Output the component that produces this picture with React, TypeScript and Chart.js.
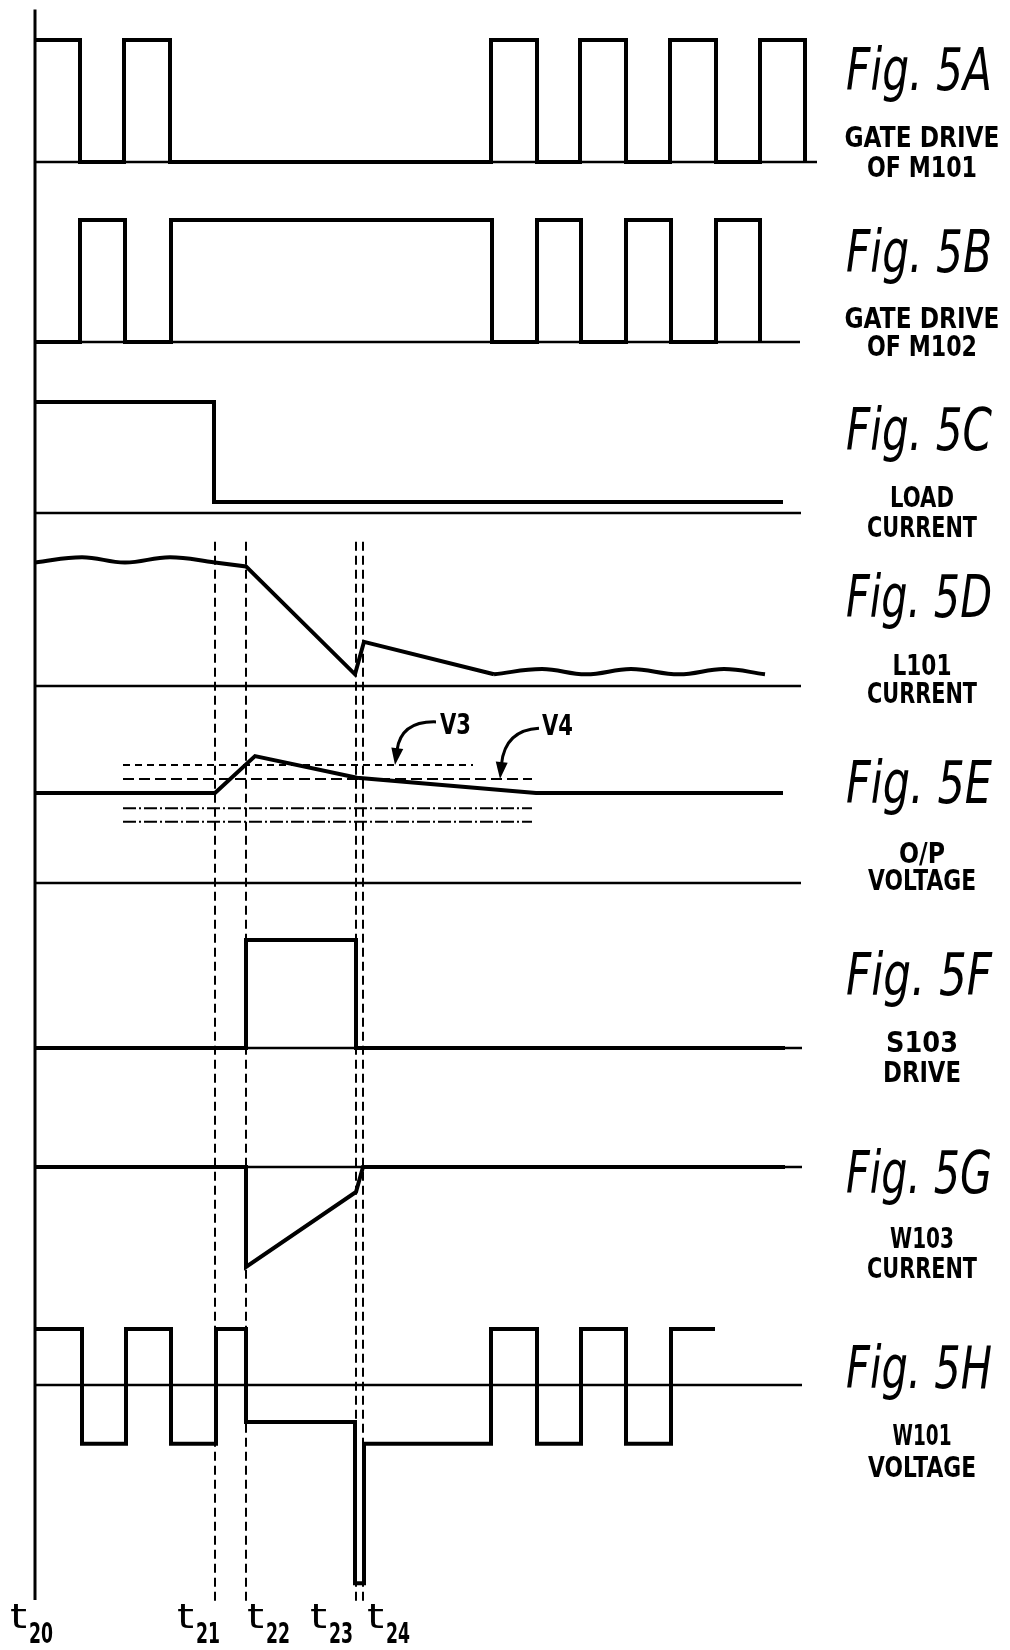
import React, { useEffect, useRef } from 'react';
import { Chart, registerables } from 'chart.js';

Chart.register(...registerables);

// ---------------- DATA ----------------
// time markers t20..t24 (time units)
const markerSubs = ['20', '21', '22', '23', '24'];
const markerTimes = [0, 18.0, 21.1, 32.1, 32.8];

// Fig 5A gate drive of M101 (stepped, 1 = high)
const gateM101Times = [0, 4.5, 8.9, 13.5, 45.6, 50.2, 54.5, 59.1, 63.5, 68.1, 72.5, 77.0];
const gateM101Levels = [1, 0, 1, 0, 1, 0, 1, 0, 1, 0, 1, 0];

// Fig 5B gate drive of M102
const gateM102Times = [0, 4.5, 9.0, 13.6, 45.7, 50.2, 54.6, 59.1, 63.6, 68.1, 72.5];
const gateM102Levels = [0, 1, 0, 1, 0, 1, 0, 1, 0, 1, 0];

// Fig 5C load current
const loadTimes = [0, 17.9, 74.8];
const loadLevels = [1, 0.1, 0.1];

// Fig 5D L101 current: steady ripple, ramp, settling ripple
const l101RippleTimes = [0, 4.7, 9.0, 13.5, 18.0];
const l101RippleLevels = [0.95, 0.99, 0.95, 0.99, 0.95];
const l101RampTimes = [18.0, 21.1, 32.0, 32.9, 45.9];
const l101RampLevels = [0.95, 0.92, 0.09, 0.34, 0.09];
const l101TailTimes = [45.9, 50.7, 55.1, 59.6, 64.4, 68.9, 73.0];
const l101TailLevels = [0.09, 0.13, 0.09, 0.13, 0.09, 0.13, 0.09];

// Fig 5E output voltage
const outTimes = [0, 18.0, 22.0, 32.2, 50.1, 74.8];
const outLevels = [1.0, 1.0, 1.41, 1.17, 1.0, 1.0];
// reference thresholds in Fig 5E
const v3Times = [8.8, 43.8];
const v3Level = 1.31;
const v4Times = [8.8, 49.7];
const v4Level = 1.156;
const lowRefTimes = [8.8, 49.7];
const lowRefLevels = [0.83, 0.68];

// Fig 5F S103 drive (stepped)
const s103Times = [0, 21.1, 32.1, 75.0];
const s103Levels = [0, 1, 0, 0];

// Fig 5G W103 current
const w103Times = [0, 21.1, 21.1, 32.1, 32.8, 75.0];
const w103Levels = [0, 0, -1.0, -0.25, 0, 0];

// Fig 5H W101 voltage (stepped)
const w101Times = [0, 4.7, 9.1, 13.6, 18.1, 21.1, 32.0, 32.9, 45.6, 50.2, 54.6, 59.1, 63.6, 68.0];
const w101Levels = [1, -1.05, 1, -1.05, 1, -0.66, -3.54, -1.05, 1, -1.05, 1, -1.05, 1, 1];

// baseline end times per panel A..H
const baselineEnds = [78.2, 76.5, 76.6, 76.6, 76.6, 76.7, 76.7, 76.7];

// label texts
const figTitles = ['Fig. 5A', 'Fig. 5B', 'Fig. 5C', 'Fig. 5D', 'Fig. 5E', 'Fig. 5F', 'Fig. 5G', 'Fig. 5H'];
const figLine1 = ['GATE DRIVE', 'GATE DRIVE', 'LOAD', 'L101', 'O/P', 'S103', 'W103', 'W101'];
const figLine2 = ['OF M101', 'OF M102', 'CURRENT', 'CURRENT', 'VOLTAGE', 'DRIVE', 'CURRENT', 'VOLTAGE'];

// ---------------- LAYOUT (positions / sizes / styles) ----------------
const W = 1010;
const H = 1650;
const X_MIN = -3.5;
const X_MAX = 97.5;
const panelIds = ['yA', 'yB', 'yC', 'yD', 'yE', 'yF', 'yG', 'yH'];
const panelZeroPx = [162, 342, 513, 686, 883, 1048, 1167, 1385];
const panelUnitPx = [122, 122, 111, 130, 90, 108, 100, 56];

const AXIS_TOP_A = 1.25;
const AXIS_BOTTOM_H = -3.84;
const MARKER_TOP_D = 1.11;
const MARKER_BOTTOM_H = -3.875;

const titleBaselines = [90, 272, 450, 617, 803, 995, 1193, 1388];
const line1Baselines = [147, 328, 507, 675, 863, 1052, 1248, 1445];
const line2Baselines = [177, 356, 537, 703, 890, 1082, 1278, 1477];
const TITLE_CX = 919;
const SUB_CX = 922;
const TITLE_W = 146;
const subWidths: Record<string, number> = {
  'GATE DRIVE': 155, 'OF M101': 110, 'OF M102': 110, LOAD: 64, CURRENT: 110,
  L101: 59, 'O/P': 46, VOLTAGE: 108, S103: 72, DRIVE: 78, W103: 64, W101: 59,
};
const timeLabelLeft = [10, 177, 247, 310, 367];
const T_BASE = 1628;
const SUB_BASE = 1643;

const INK = '#000';
const THICK = 4;
const THIN = 2.5;

const TITLE_FONT = "italic 58px 'DejaVu Sans'";
const SUB_FONT = "bold 29px 'DejaVu Sans'";
const T_FONT = "34px 'DejaVu Sans'";
const T_SUB_FONT = "bold 29px 'DejaVu Sans'";

// arrow annotations (time, E-level)
const arrowV3 = { tail: [40.1, 1.79], ctrl: [36.6, 1.80], tip: [36.0, 1.31] };
const arrowV4 = { tail: [50.4, 1.72], ctrl: [47.0, 1.70], tip: [46.5, 1.156] };

// ---------------- helpers ----------------
const pts = (ts: number[], ls: number[]) => ts.map((t, i) => ({ x: t, y: ls[i] }));

function line(data: { x: number; y: number }[], axis: string, extra: any = {}) {
  return {
    data,
    yAxisID: axis,
    borderColor: INK,
    backgroundColor: INK,
    borderWidth: THICK,
    pointRadius: 0,
    pointHoverRadius: 0,
    fill: false,
    tension: 0,
    borderJoinStyle: 'miter',
    ...extra,
  };
}

function fitText(ctx: CanvasRenderingContext2D, text: string, x: number, y: number, font: string, width: number, align: CanvasTextAlign) {
  ctx.save();
  ctx.font = font;
  const w = ctx.measureText(text).width;
  const s = width / w;
  ctx.translate(x, y);
  ctx.scale(s, 1);
  ctx.textAlign = align;
  ctx.textBaseline = 'alphabetic';
  ctx.fillStyle = INK;
  ctx.fillText(text, 0, 0);
  ctx.restore();
}

function drawArrow(ctx: CanvasRenderingContext2D, xs: any, ys: any, a: any) {
  const p = (q: number[]) => [xs.getPixelForValue(q[0]), ys.getPixelForValue(q[1])];
  const [tx, ty] = p(a.tail);
  const [cx, cy] = p(a.ctrl);
  const [px, py] = p(a.tip);
  const dx = px - cx;
  const dy = py - cy;
  const len = Math.hypot(dx, dy);
  const ux = dx / len;
  const uy = dy / len;
  const headL = 17;
  const headW = 6;
  const bx = px - ux * headL;
  const by = py - uy * headL;
  ctx.save();
  ctx.strokeStyle = INK;
  ctx.fillStyle = INK;
  ctx.lineWidth = 3;
  ctx.beginPath();
  ctx.moveTo(tx, ty);
  ctx.quadraticCurveTo(cx, cy, bx + ux * 2, by + uy * 2);
  ctx.stroke();
  ctx.beginPath();
  ctx.moveTo(px, py);
  ctx.lineTo(bx - uy * headW, by + ux * headW);
  ctx.lineTo(bx + uy * headW, by - ux * headW);
  ctx.closePath();
  ctx.fill();
  ctx.restore();
}

const overlay = {
  id: 'overlay',
  beforeDatasetsDraw(chart: any) {
    const { ctx, scales } = chart;
    const x = scales.x;
    ctx.save();
    ctx.strokeStyle = INK;
    ctx.lineWidth = 2;
    ctx.setLineDash([9, 5]);
    for (let i = 1; i < markerTimes.length; i++) {
      const px = Math.round(x.getPixelForValue(markerTimes[i]));
      ctx.beginPath();
      ctx.moveTo(px, scales.yD.getPixelForValue(MARKER_TOP_D));
      ctx.lineTo(px, scales.yH.getPixelForValue(MARKER_BOTTOM_H));
      ctx.stroke();
    }
    ctx.setLineDash([]);
    ctx.lineWidth = 3;
    const ax = x.getPixelForValue(markerTimes[0]);
    ctx.beginPath();
    ctx.moveTo(ax, scales.yA.getPixelForValue(AXIS_TOP_A));
    ctx.lineTo(ax, scales.yH.getPixelForValue(AXIS_BOTTOM_H));
    ctx.stroke();
    ctx.restore();
  },
  afterDraw(chart: any) {
    const { ctx, scales } = chart;
    for (let i = 0; i < figTitles.length; i++) {
      fitText(ctx, figTitles[i], TITLE_CX, titleBaselines[i], TITLE_FONT, TITLE_W, 'center');
      fitText(ctx, figLine1[i], SUB_CX, line1Baselines[i], SUB_FONT, subWidths[figLine1[i]], 'center');
      fitText(ctx, figLine2[i], SUB_CX, line2Baselines[i], SUB_FONT, subWidths[figLine2[i]], 'center');
    }
    for (let i = 0; i < markerSubs.length; i++) {
      const left = timeLabelLeft[i];
      fitText(ctx, 't', left, T_BASE, T_FONT, 17, 'left');
      fitText(ctx, markerSubs[i], left + 19, SUB_BASE, T_SUB_FONT, 24, 'left');
    }
    fitText(ctx, 'V3', 440, 734, "bold 28px 'DejaVu Sans'", 31, 'left');
    fitText(ctx, 'V4', 542, 735, "bold 28px 'DejaVu Sans'", 31, 'left');
    drawArrow(ctx, scales.x, scales.yE, arrowV3);
    drawArrow(ctx, scales.x, scales.yE, arrowV4);
  },
};

function buildConfig(): any {
  const baseline = (i: number) =>
    line(pts([0, baselineEnds[i]], [0, 0]), panelIds[i], { borderWidth: THIN });

  const datasets: any[] = [
    // waveforms
    line(pts(gateM101Times, gateM101Levels), 'yA', { stepped: true }),
    line(pts(gateM102Times, gateM102Levels), 'yB', { stepped: true }),
    line(pts(loadTimes, loadLevels), 'yC', { stepped: true }),
    line(pts(l101RippleTimes, l101RippleLevels), 'yD', { tension: 0.4 }),
    line(pts(l101RampTimes, l101RampLevels), 'yD'),
    line(pts(l101TailTimes, l101TailLevels), 'yD', { tension: 0.4 }),
    line(pts(outTimes, outLevels), 'yE'),
    line(pts(s103Times, s103Levels), 'yF', { stepped: true }),
    line(pts(w103Times, w103Levels), 'yG'),
    line(pts(w101Times, w101Levels), 'yH', { stepped: true }),
    // thresholds in 5E
    line(pts(v3Times, [v3Level, v3Level]), 'yE', { borderWidth: 2, borderDash: [7, 5] }),
    line(pts(v4Times, [v4Level, v4Level]), 'yE', { borderWidth: 2, borderDash: [11, 5] }),
    line(pts(lowRefTimes, [lowRefLevels[0], lowRefLevels[0]]), 'yE', { borderWidth: 2, borderDash: [13, 3, 2, 3] }),
    line(pts(lowRefTimes, [lowRefLevels[1], lowRefLevels[1]]), 'yE', { borderWidth: 2, borderDash: [13, 3, 2, 3] }),
  ];
  for (let i = 0; i < panelIds.length; i++) datasets.push(baseline(i));

  const scales: any = {
    x: { type: 'linear', min: X_MIN, max: X_MAX, display: false },
  };
  panelIds.forEach((id, i) => {
    const unit = panelUnitPx[i];
    const zero = panelZeroPx[i];
    scales[id] = {
      type: 'linear',
      display: false,
      min: (zero - H) / unit,
      max: zero / unit,
    };
  });

  return {
    type: 'line',
    data: { datasets },
    options: {
      animation: false,
      responsive: false,
      maintainAspectRatio: false,
      devicePixelRatio: 1,
      layout: { padding: 0 },
      events: [],
      plugins: { legend: { display: false }, tooltip: { enabled: false }, title: { display: false } },
      scales,
    },
    plugins: [overlay],
  };
}

export default function App() {
  const ref = useRef<HTMLCanvasElement>(null);
  useEffect(() => {
    if (!ref.current) return;
    const chart = new Chart(ref.current, buildConfig());
    return () => chart.destroy();
  }, []);
  return (
    <div style={{ position: 'absolute', left: 0, top: 0, width: W, height: H, background: '#fff' }}>
      <canvas ref={ref} width={W} height={H} style={{ display: 'block', width: W, height: H }} />
    </div>
  );
}
